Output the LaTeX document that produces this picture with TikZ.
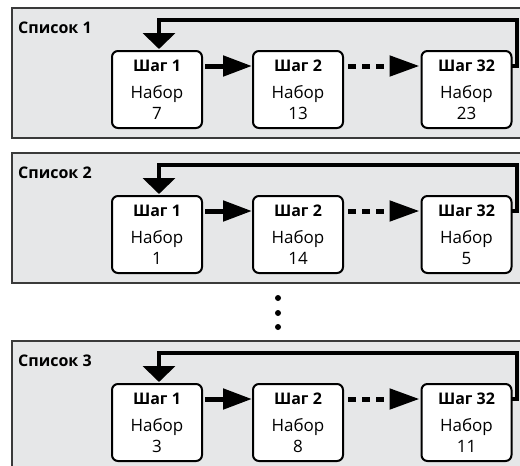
\documentclass[tikz,border=0pt]{standalone}
\usepackage{fontspec}
\setmainfont{Open Sans}
\usetikzlibrary{arrows.meta}
\definecolor{panelfill}{HTML}{E6E7E8}
\definecolor{panelline}{HTML}{3A3A3A}
\tikzset{
  x=1pt, y=-1pt,
  panel/.style={draw=panelline, fill=panelfill, line width=2pt, minimum width=530pt, minimum height=130pt, anchor=north west, inner sep=0pt, outer sep=0pt},
  listlabel/.style={font=\fontsize{16}{19}\selectfont\bfseries, anchor=base west, inner sep=0pt},
  stepbox/.style={draw=black, fill=white, line width=2pt, rounded corners=6pt, minimum width=90pt, minimum height=77pt, anchor=north west, inner sep=0pt, outer sep=0pt},
  steptitle/.style={font=\fontsize{16}{19}\selectfont\bfseries, inner sep=0pt, anchor=base},
  steptext/.style={font=\fontsize{17}{20}\selectfont, inner sep=0pt, anchor=base},
  loopline/.style={line width=4pt, line join=miter, -{Triangle[length=16pt,width=32pt]}},
  nextarrow/.style={line width=5pt, -{Triangle[length=29pt,width=20pt]}},
  dasharrow/.style={line width=5pt, dash pattern=on 8pt off 6pt, -{Triangle[length=30pt,width=20pt]}},
  dotnode/.style={circle, fill=black, inner sep=0pt, minimum size=6pt},
}
\newcommand{\drawlist}[5]{%
  \node[panel] (p#2) at (12,#1) {};
  \node[listlabel] (l#2) at (18,#1+25) {Список #2};
  \node[stepbox] (a#2) at (112,#1+43) {};
  \node[stepbox] (b#2) at (253,#1+43) {};
  \node[stepbox] (c#2) at (421.5,#1+43) {};
  \node[steptitle] (a#2t) at ([yshift=-20pt]a#2.north) {Шаг 1};
  \node[steptext] (a#2s) at ([yshift=-47pt]a#2.north) {Набор};
  \node[steptext] (a#2n) at ([yshift=-68pt]a#2.north) {#3};
  \node[steptitle] (b#2t) at ([yshift=-20pt]b#2.north) {Шаг 2};
  \node[steptext] (b#2s) at ([yshift=-47pt]b#2.north) {Набор};
  \node[steptext] (b#2n) at ([yshift=-68pt]b#2.north) {#4};
  \node[steptitle] (c#2t) at ([yshift=-20pt]c#2.north) {Шаг 32};
  \node[steptext] (c#2s) at ([yshift=-47pt]c#2.north) {Набор};
  \node[steptext] (c#2n) at ([yshift=-68pt]c#2.north) {#5};
  \coordinate (k#2) at (517,#1+12);
  \draw[loopline] ([yshift=-15pt]c#2.north east) -| (k#2) -| ([xshift=2pt,yshift=2pt]a#2.north);
  \draw[nextarrow] ([xshift=3pt,yshift=-15pt]a#2.north east) -- ([xshift=-1pt,yshift=-15pt]b#2.north west);
  \draw[dasharrow] ([xshift=5pt,yshift=-15pt]b#2.north east) -- ([xshift=-2pt,yshift=-15pt]c#2.north west);
}
\begin{document}
\begin{tikzpicture}
\useasboundingbox (0,0) rectangle (520,466);
\fill[white] (0,0) rectangle (520,466);
\drawlist{8}{1}{7}{13}{23}
\drawlist{153}{2}{1}{14}{5}
\drawlist{341}{3}{3}{8}{11}
\node[dotnode] (d1) at (278,298) {};
\node[dotnode] (d2) at (278,313) {};
\node[dotnode] (d3) at (278,327) {};
\end{tikzpicture}
\end{document}
